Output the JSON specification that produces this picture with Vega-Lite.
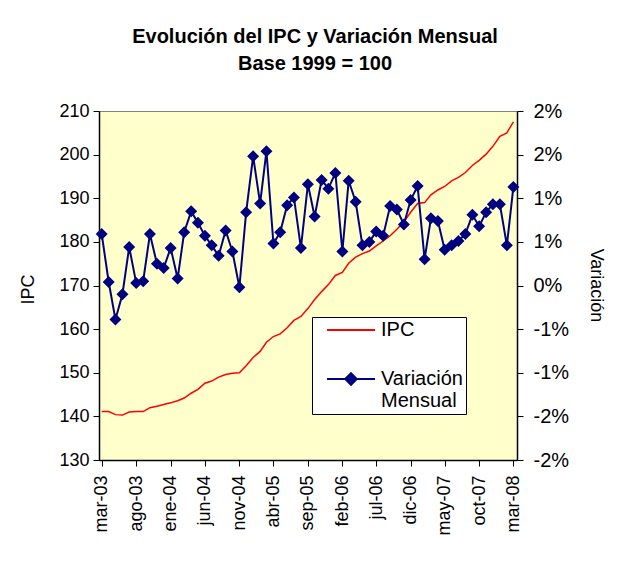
{
  "$schema": "https://vega.github.io/schema/vega-lite/v6.json",
  "width": 418,
  "height": 349,
  "autosize": {"type": "none"},
  "padding": {"left": 99, "top": 111, "right": 100, "bottom": 101},
  "background": "white",
  "config": {
    "font": "Liberation Sans",
    "view": {"fill": "#FFFFCC", "stroke": "#808080", "strokeWidth": 1},
    "axis": {"grid": false, "domainColor": "black", "domainWidth": 1.5, "tickColor": "black", "labelColor": "black", "titleColor": "black", "labelFont": "Liberation Sans", "titleFont": "Liberation Sans", "titleFontWeight": "normal"}
  },
  "title": {
    "text": ["Evolución del IPC y Variación Mensual", "Base 1999 = 100"],
    "fontSize": 20,
    "fontWeight": "bold",
    "font": "Liberation Sans",
    "color": "black",
    "lineHeight": 27,
    "anchor": "middle",
    "baseline": "alphabetic",
    "offset": 11,
    "dx": 7
  },
  "data": {"values": [
    {"date": "2003-03-01", "ipc": 141.1, "var": 0.0059},
    {"date": "2003-04-01", "ipc": 141.1, "var": 0.0004},
    {"date": "2003-05-01", "ipc": 140.4, "var": -0.0039},
    {"date": "2003-06-01", "ipc": 140.3, "var": -0.0010},
    {"date": "2003-07-01", "ipc": 141.0, "var": 0.0044},
    {"date": "2003-08-01", "ipc": 141.1, "var": 0.0003},
    {"date": "2003-09-01", "ipc": 141.1, "var": 0.0005},
    {"date": "2003-10-01", "ipc": 142.0, "var": 0.0059},
    {"date": "2003-11-01", "ipc": 142.3, "var": 0.0025},
    {"date": "2003-12-01", "ipc": 142.7, "var": 0.0020},
    {"date": "2004-01-01", "ipc": 143.1, "var": 0.0043},
    {"date": "2004-02-01", "ipc": 143.6, "var": 0.0008},
    {"date": "2004-03-01", "ipc": 144.2, "var": 0.0061},
    {"date": "2004-04-01", "ipc": 145.3, "var": 0.0085},
    {"date": "2004-05-01", "ipc": 146.2, "var": 0.0072},
    {"date": "2004-06-01", "ipc": 147.6, "var": 0.0057},
    {"date": "2004-07-01", "ipc": 148.1, "var": 0.0046},
    {"date": "2004-08-01", "ipc": 149.0, "var": 0.0034},
    {"date": "2004-09-01", "ipc": 149.6, "var": 0.0063},
    {"date": "2004-10-01", "ipc": 149.9, "var": 0.0039},
    {"date": "2004-11-01", "ipc": 150.0, "var": -0.0002},
    {"date": "2004-12-01", "ipc": 151.6, "var": 0.0084},
    {"date": "2005-01-01", "ipc": 153.5, "var": 0.0148},
    {"date": "2005-02-01", "ipc": 154.9, "var": 0.0094},
    {"date": "2005-03-01", "ipc": 157.0, "var": 0.0154},
    {"date": "2005-04-01", "ipc": 158.3, "var": 0.0048},
    {"date": "2005-05-01", "ipc": 158.9, "var": 0.0061},
    {"date": "2005-06-01", "ipc": 160.3, "var": 0.0092},
    {"date": "2005-07-01", "ipc": 162.0, "var": 0.0101},
    {"date": "2005-08-01", "ipc": 162.9, "var": 0.0043},
    {"date": "2005-09-01", "ipc": 164.7, "var": 0.0116},
    {"date": "2005-10-01", "ipc": 166.8, "var": 0.0079},
    {"date": "2005-11-01", "ipc": 168.6, "var": 0.0121},
    {"date": "2005-12-01", "ipc": 170.2, "var": 0.0111},
    {"date": "2006-01-01", "ipc": 172.3, "var": 0.0129},
    {"date": "2006-02-01", "ipc": 173.0, "var": 0.0039},
    {"date": "2006-03-01", "ipc": 175.1, "var": 0.0120},
    {"date": "2006-04-01", "ipc": 176.5, "var": 0.0096},
    {"date": "2006-05-01", "ipc": 177.3, "var": 0.0046},
    {"date": "2006-06-01", "ipc": 177.9, "var": 0.0050},
    {"date": "2006-07-01", "ipc": 179.1, "var": 0.0062},
    {"date": "2006-08-01", "ipc": 180.2, "var": 0.0057},
    {"date": "2006-09-01", "ipc": 181.4, "var": 0.0091},
    {"date": "2006-10-01", "ipc": 182.9, "var": 0.0087},
    {"date": "2006-11-01", "ipc": 184.6, "var": 0.0070},
    {"date": "2006-12-01", "ipc": 186.8, "var": 0.0098},
    {"date": "2007-01-01", "ipc": 188.8, "var": 0.0114},
    {"date": "2007-02-01", "ipc": 189.0, "var": 0.0030},
    {"date": "2007-03-01", "ipc": 190.8, "var": 0.0077},
    {"date": "2007-04-01", "ipc": 191.9, "var": 0.0074},
    {"date": "2007-05-01", "ipc": 192.7, "var": 0.0041},
    {"date": "2007-06-01", "ipc": 194.0, "var": 0.0046},
    {"date": "2007-07-01", "ipc": 194.8, "var": 0.0051},
    {"date": "2007-08-01", "ipc": 195.9, "var": 0.0059},
    {"date": "2007-09-01", "ipc": 197.5, "var": 0.0081},
    {"date": "2007-10-01", "ipc": 198.7, "var": 0.0068},
    {"date": "2007-11-01", "ipc": 200.1, "var": 0.0084},
    {"date": "2007-12-01", "ipc": 201.9, "var": 0.0093},
    {"date": "2008-01-01", "ipc": 204.2, "var": 0.0093},
    {"date": "2008-02-01", "ipc": 205.0, "var": 0.0046},
    {"date": "2008-03-01", "ipc": 207.5, "var": 0.0113}
  ]},
  "encoding": {
    "x": {
      "field": "date",
      "type": "temporal",
      "scale": {"type": "utc", "domain": [{"year": 2003, "month": 2, "date": 17, "utc": true}, {"year": 2008, "month": 3, "date": 17, "utc": true}]},
      "axis": {
        "title": null,
        "values": [
          {"year": 2003, "month": 3, "date": 1, "utc": true},
          {"year": 2003, "month": 8, "date": 1, "utc": true},
          {"year": 2004, "month": 1, "date": 1, "utc": true},
          {"year": 2004, "month": 6, "date": 1, "utc": true},
          {"year": 2004, "month": 11, "date": 1, "utc": true},
          {"year": 2005, "month": 4, "date": 1, "utc": true},
          {"year": 2005, "month": 9, "date": 1, "utc": true},
          {"year": 2006, "month": 2, "date": 1, "utc": true},
          {"year": 2006, "month": 7, "date": 1, "utc": true},
          {"year": 2006, "month": 12, "date": 1, "utc": true},
          {"year": 2007, "month": 5, "date": 1, "utc": true},
          {"year": 2007, "month": 10, "date": 1, "utc": true},
          {"year": 2008, "month": 3, "date": 1, "utc": true}
        ],
        "labelExpr": "['ene','feb','mar','abr','may','jun','jul','ago','sep','oct','nov','dic'][utcmonth(datum.value)] + '-' + utcFormat(datum.value, '%y')",
        "labelAngle": -90,
        "labelFontSize": 18,
        "labelOverlap": false,
        "labelFlush": false,
        "tickSize": 6,
        "labelPadding": 9
      }
    }
  },
  "layer": [
    {
      "mark": {"type": "line", "strokeWidth": 1.5},
      "encoding": {
        "y": {
          "field": "ipc",
          "type": "quantitative",
          "scale": {"domain": [130, 210], "nice": false, "zero": false},
          "axis": {
            "title": "IPC",
            "values": [130, 140, 150, 160, 170, 180, 190, 200, 210],
            "labelFontSize": 18,
            "tickSize": 6,
            "labelPadding": 4,
            "titleFontSize": 18,
            "titleX": -71,
            "titleY": 178,
            "titleBaseline": "middle",
            "titleAlign": "center"
          }
        },
        "color": {
          "datum": "IPC",
          "type": "nominal",
          "scale": {"domain": ["IPC", "Variación Mensual"], "range": ["#FF0000", "#000080"]},
          "legend": {
            "title": null,
            "orient": "none",
            "legendX": 213,
            "legendY": 206,
            "fillColor": "white",
            "strokeColor": "black",
            "padding": 3,
            "rowPadding": 29,
            "symbolSize": 2304,
            "symbolStrokeWidth": 2,
            "labelFontSize": 20,
            "labelFont": "Liberation Sans",
            "labelColor": "black",
            "labelOffset": 16,
            "labelExpr": "datum.label == 'Variación Mensual' ? ['Variación', 'Mensual'] : datum.label",
            "encode": {
              "symbols": {
                "update": {
                  "x": {"value": 36},
                  "y": {"value": 10},
                  "size": {"value": 2304},
                  "shape": {"signal": "datum.value == 'IPC' ? 'M-1,0H1' : 'M-1,0H1M0,-0.24L0.24,0L0,0.24L-0.24,0Z'"},
                  "fill": {"signal": "datum.value == 'IPC' ? 'transparent' : '#000080'"},
                  "stroke": {"signal": "datum.value == 'IPC' ? '#FF0000' : '#000080'"},
                  "strokeWidth": {"value": 2}
                }
              },
              "labels": {
                "update": {
                  "y": {"value": 10},
                  "lineHeight": {"value": 22}
                }
              }
            }
          }
        }
      }
    },
    {
      "mark": {"type": "line", "strokeWidth": 2, "point": {"shape": "diamond", "size": 144, "filled": true}},
      "encoding": {
        "y": {
          "field": "var",
          "type": "quantitative",
          "scale": {"domain": [-0.02, 0.02], "nice": false, "zero": false},
          "axis": {
            "orient": "right",
            "title": "Variación",
            "values": [-0.02, -0.015, -0.01, -0.005, 0, 0.005, 0.01, 0.015, 0.02],
            "labelExpr": "(datum.value < 0 ? '-' : '') + round(abs(datum.value) * 100 + 0.001) + '%'",
            "labelFontSize": 20,
            "tickSize": 6,
            "labelPadding": 10,
            "titleFontSize": 18,
            "titleX": 78,
            "titleY": 174,
            "titleAngle": 90,
            "titleBaseline": "middle",
            "titleAlign": "center"
          }
        },
        "color": {"datum": "Variación Mensual", "type": "nominal"}
      }
    }
  ],
  "resolve": {"scale": {"y": "independent"}}
}
